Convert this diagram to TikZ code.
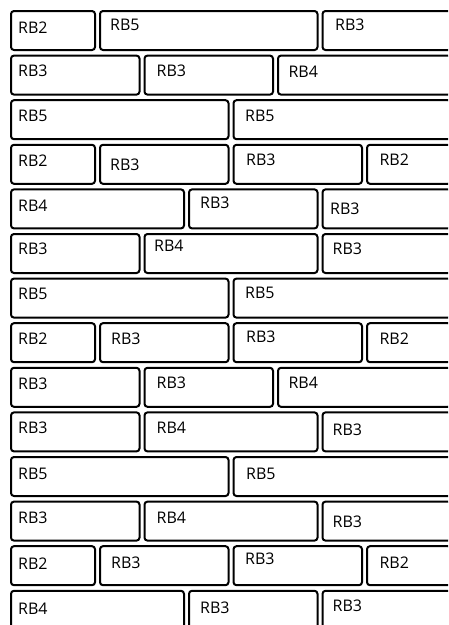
\documentclass[tikz,border=0pt]{standalone}
\usepackage{fontspec}
\setmainfont{Open Sans}
\begin{document}
\begin{tikzpicture}[x=1pt,y=-1pt,
  brick/.style={draw=black,line width=2pt,rounded corners=3pt,fill=white},
  lbl/.style={anchor=base west,inner sep=0pt,font=\fontsize{16}{19}\selectfont}]
\useasboundingbox (0,0) rectangle (448,625);
\clip (0,0) rectangle (448,625);
\foreach \row [count=\r from 0] in {
  {2/7/22.3, 5/10/19.7, 3/12.5/19.7},
  {3/7/20.4, 3/12/20.4, 4/10.3/21.7},
  {5/7/21.5, 5/11.5/21.5},
  {2/7/21.9, 3/10/25.2, 3/12.5/20.5, 2/12.3/20.5},
  {4/7/22.3, 3/11/19, 3/7.5/24.6},
  {3/7/20.8, 4/9.5/17.5, 3/10/20.8},
  {5/7/21.2, 5/11.5/19.5},
  {2/7/21.6, 3/11/21.6, 3/12.5/19.3, 2/12.3/21.6},
  {3/7/22, 3/12/20.3, 4/10.3/20.3},
  {3/7/20.7, 4/12/20.7, 3/10/23.4},
  {5/7/22.1, 5/12.5/22.1},
  {3/7/21.5, 4/12/21.5, 3/10/25.5},
  {2/7/23.6, 3/11/22, 3/11.5/18.6, 2/12.3/22},
  {4/7/24, 3/11/22.3, 3/10/20.7}} {
  \gdef\cur{0}
  \foreach \w/\dx/\dy [count=\c] in \row {
    \pgfmathsetmacro\xa{11+\cur*44.5}
    \pgfmathsetmacro\xb{11+(\cur+\w)*44.5-5}
    \pgfmathsetmacro\ya{11+\r*44.6}
    \pgfmathsetmacro\yb{\ya+39}
    \draw[brick] (\xa,\ya) rectangle (\xb,\yb);
    \node[lbl] (b\r-\c) at (\xa+\dx,\ya+\dy) {RB\w};
    \pgfmathsetmacro\nxt{\cur+\w}
    \xdef\cur{\nxt}
  }
}
\end{tikzpicture}
\end{document}
